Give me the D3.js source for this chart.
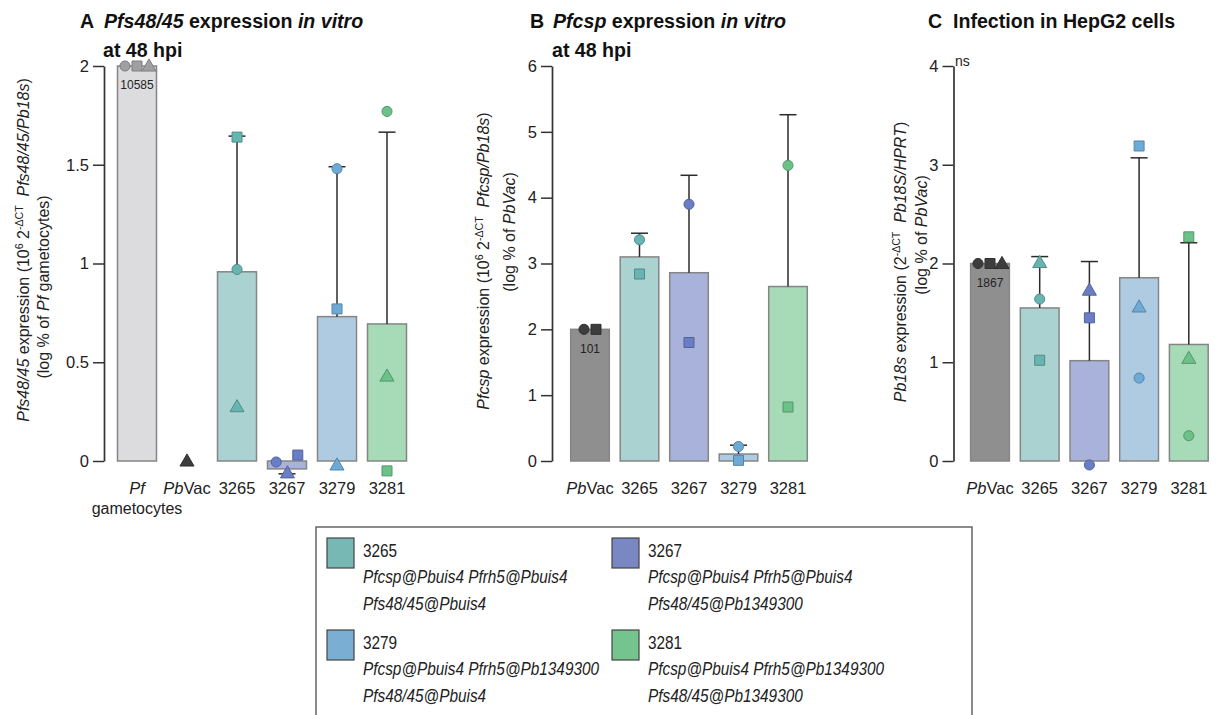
<!DOCTYPE html>
<html>
<head>
<meta charset="utf-8">
<script src="https://cdn.jsdelivr.net/npm/d3@7"></script>
<style>
  body { margin: 0; background: #fff; }
  svg { font-family: "Liberation Sans", Arial, sans-serif; }
  text { white-space: pre; }
</style>
</head>
<body>
<svg id="chart" width="1217" height="715"></svg>
<script>
// ---- Panel A: Pfs48/45 expression in vitro at 48 hpi ----
const catsA   = ["Pf", "PbVac", "3265", "3267", "3279", "3281"];
const meanA   = [2, null, 0.958, -0.04, 0.731, 0.694];
const errA    = [null, null, 1.645, -0.065, 1.49, 1.665];
const circA   = [2, null, 0.97, -0.005, 1.48, 1.77];
const squareA = [2, null, 1.64, 0.03, 0.77, -0.05];
const triA    = [2, 0, 0.275, -0.06, -0.02, 0.43];
const ticksA  = [0, 0.5, 1, 1.5, 2];

// ---- Panel B: Pfcsp expression in vitro at 48 hpi ----
const catsB   = ["PbVac", "3265", "3267", "3279", "3281"];
const meanB   = [2, 3.10, 2.86, 0.106, 2.65];
const errB    = [null, 3.46, 4.34, 0.24, 5.26];
const circB   = [2, 3.36, 3.90, 0.22, 4.49];
const squareB = [2, 2.84, 1.80, 0.01, 0.82];
const triB    = [null, null, null, null, null];
const ticksB  = [0, 1, 2, 3, 4, 5, 6];

// ---- Panel C: infection in HepG2 cells ----
const catsC   = ["PbVac", "3265", "3267", "3279", "3281"];
const meanC   = [2, 1.55, 1.016, 1.856, 1.18];
const errC    = [null, 2.07, 2.02, 3.07, 2.21];
const circC   = [2, 1.64, -0.04, 0.84, 0.256];
const squareC = [2, 1.02, 1.45, 3.19, 2.27];
const triC    = [2, 2.01, 1.73, 1.56, 1.04];
const ticksC  = [0, 1, 2, 3, 4];

// reference-strain raw values printed inside the bars
const barNotes = [{ panel: "A", cat: "Pf", text: "10585" },
                  { panel: "B", cat: "PbVac", text: "101" },
                  { panel: "C", cat: "PbVac", text: "1867" }];

// legend entries
const legendNames = ["3265", "3267", "3279", "3281"];
const legendLines = [
  ["Pfcsp@Pbuis4 Pfrh5@Pbuis4", "Pfs48/45@Pbuis4"],
  ["Pfcsp@Pbuis4 Pfrh5@Pbuis4", "Pfs48/45@Pb1349300"],
  ["Pfcsp@Pbuis4 Pfrh5@Pb1349300", "Pfs48/45@Pbuis4"],
  ["Pfcsp@Pbuis4 Pfrh5@Pb1349300", "Pfs48/45@Pb1349300"]
];

// colours
const barFill = { Pf: "#dcdcde", PbVac: "#8f8f8f", "3265": "#a9d2d0", "3267": "#a8b2da", "3279": "#afcbe2", "3281": "#a7dab6" };
const ptFill  = { Pf: "#a0a0a2", PbVac: "#3d3d3d", "3265": "#68b4b1", "3267": "#6a7ec6", "3279": "#6eaad6", "3281": "#6cc189" };
const swatchFill = { "3265": "#78b8b4", "3267": "#7988c3", "3279": "#7aaed3", "3281": "#75c48d" };

const svg = d3.select("#chart");
const Y0 = 461, YTOP = 66;

function rich(sel, segs, size) {
  let raised = false;
  segs.forEach(s => {
    const t = sel.append("tspan").text(s.t);
    if (s.i) t.attr("font-style", "italic");
    if (s.sup) {
      t.attr("font-size", size * 0.66).attr("dy", raised ? 0 : -size * 0.4);
      raised = true;
    } else if (raised) {
      t.attr("dy", size * 0.4);
      raised = false;
    }
  });
}

// simple dodge so replicate symbols at similar heights do not overlap
function dodge(ys, d, spread) {
  const placed = [];
  ys.forEach((py, idx) => {
    if (py == null) { placed.push(null); return; }
    const others = placed.filter(p => p);
    const cands = [0];
    others.forEach(q => {
      const dy = Math.abs(py - q.y);
      if (dy < d) {
        const need = Math.sqrt(d * d - dy * dy);
        cands.push(q.x + need, q.x - need);
      }
    });
    const ok = cands.filter(x => others.every(q => Math.hypot(x - q.x, py - q.y) >= d - 0.01));
    ok.sort((a, b) => Math.abs(a) - Math.abs(b) || b - a);
    placed.push({ x: ok[0], y: py, idx });
  });
  const pts = placed.filter(p => p);
  if (pts.length > 1) {
    const xs = pts.map(p => p.x);
    const mid = (d3.min(xs) + d3.max(xs)) / 2;
    pts.forEach(p => p.x -= mid);
    if (d3.max(pts, p => p.y) - d3.min(pts, p => p.y) < 0.5) {
      // identical heights: lay out left-to-right in replicate order
      const sorted = xs.map(x => x - mid).sort((a, b) => a - b);
      pts.forEach((p, i) => p.x = sorted[i]);
    } else {
      // mixed heights: widen the swarm a little so symbols read separately
      pts.forEach(p => p.x *= spread);
    }
  }
  return placed.map(p => p ? p.x : 0);
}

function drawPanel(cfg) {
  const g = svg.append("g");
  const y = d3.scaleLinear().domain([0, cfg.yMax]).range([Y0, YTOP]);
  const x = d3.scaleBand().domain(cfg.cats).range(cfg.band).paddingInner(0.22).paddingOuter(0.11);
  const bw = x.bandwidth();

  // y axis
  const ax = g.append("g").attr("transform", `translate(${cfg.axisX},0)`)
    .call(d3.axisLeft(y).tickValues(cfg.ticks).tickSize(11).tickPadding(4).tickSizeOuter(0).tickFormat(d3.format("~g")));
  ax.select(".domain").attr("stroke", "#333").attr("stroke-width", 1.7);
  ax.selectAll(".tick line").attr("stroke", "#333").attr("stroke-width", 1.5);
  ax.selectAll(".tick text").attr("font-size", 16.5).attr("fill", "#222").attr("font-family", "Liberation Sans, Arial, sans-serif");

  // bars
  cfg.cats.forEach((c, i) => {
    const m = cfg.mean[i];
    if (m == null) return;
    g.append("rect")
      .attr("x", x(c)).attr("width", bw)
      .attr("y", y(Math.max(0, m)))
      .attr("height", Math.abs(y(m) - y(0)))
      .attr("fill", barFill[c]).attr("stroke", "#858585").attr("stroke-width", 1.5);
  });

  // error bars
  cfg.cats.forEach((c, i) => {
    const m = cfg.mean[i], e = cfg.err[i];
    if (m == null || e == null) return;
    const cx = x(c) + bw / 2;
    g.append("line").attr("x1", cx).attr("x2", cx).attr("y1", y(m)).attr("y2", y(e))
      .attr("stroke", "#2b2b2b").attr("stroke-width", 1.5);
    g.append("line").attr("x1", cx - 8.5).attr("x2", cx + 8.5).attr("y1", y(e)).attr("y2", y(e))
      .attr("stroke", "#2b2b2b").attr("stroke-width", 1.5);
  });

  // replicate points
  const shapes = [
    { vals: cfg.circ, type: d3.symbolCircle, size: 80 },
    { vals: cfg.sq,   type: d3.symbolSquare, size: 100 },
    { vals: cfg.tri,  type: d3.symbolTriangle, size: 85 }
  ];
  cfg.cats.forEach((c, i) => {
    const ys = shapes.map(s => s.vals[i] == null ? null : y(s.vals[i]));
    const offs = dodge(ys, 12, 2.2);
    const cx = x(c) + bw / 2;
    shapes.forEach((s, k) => {
      if (ys[k] == null) return;
      const f = ptFill[c];
      g.append("path")
        .attr("d", d3.symbol().type(s.type).size(s.size)())
        .attr("transform", `translate(${cx + offs[k]},${ys[k] + (s.type === d3.symbolTriangle ? 1 : 0)})`)
        .attr("fill", f).attr("stroke", d3.color(f).darker(0.7)).attr("stroke-width", 1);
    });
  });

  // raw value note
  barNotes.filter(n => n.panel === cfg.id).forEach(n => {
    const i = cfg.cats.indexOf(n.cat);
    g.append("text").attr("x", x(n.cat) + bw / 2).attr("y", y(cfg.mean[i]) + 19)
      .attr("dy", "0.35em").attr("text-anchor", "middle").attr("font-size", 12).attr("fill", "#222")
      .text(n.text);
  });

  // category labels
  cfg.cats.forEach(c => {
    const t = g.append("text").attr("x", x(c) + bw / 2).attr("y", 494)
      .attr("text-anchor", "middle").attr("font-size", 16.5).attr("fill", "#222");
    if (c === "PbVac") rich(t, [{ t: "Pb", i: true }, { t: "Vac" }], 16.5);
    else if (c === "Pf") {
      rich(t, [{ t: "Pf", i: true }], 16.5);
      g.append("text").attr("x", x(c) + bw / 2).attr("y", 514).attr("text-anchor", "middle")
        .attr("font-size", 16).attr("fill", "#222").text("gametocytes");
    } else t.text(c);
  });

  // axis title (two rotated lines)
  cfg.ytitle.forEach(l => {
    const t = g.append("text")
      .attr("transform", `translate(${l.x},${l.cy}) rotate(-90)`)
      .attr("text-anchor", "middle").attr("font-size", 16).attr("fill", "#222");
    rich(t, l.segs, 16);
  });

  // panel heading
  cfg.title.forEach(l => {
    const t = g.append("text").attr("x", l.x).attr("y", l.y)
      .attr("font-size", 19.6).attr("font-weight", "bold").attr("fill", "#111");
    rich(t, l.segs, 19.6);
  });
  return g;
}

drawPanel({
  id: "A", cats: catsA, mean: meanA, err: errA, circ: circA, sq: squareA, tri: triA,
  yMax: 2, ticks: ticksA, axisX: 104, band: [112, 412],
  ytitle: [
    { x: 29, cy: 250, segs: [{ t: "Pfs48/45", i: true }, { t: " expression (10" }, { t: "6", sup: true }, { t: " 2" }, { t: "-ΔCT", sup: true }, { t: "  " }, { t: "Pfs48/45/Pb18s", i: true }, { t: ")" }] },
    { x: 49, cy: 287, segs: [{ t: "(log % of " }, { t: "Pf", i: true }, { t: " gametocytes)" }] }
  ],
  title: [
    { x: 80, y: 28, segs: [{ t: "A" }] },
    { x: 104, y: 28, segs: [{ t: "Pfs48/45", i: true }, { t: " expression " }, { t: "in vitro", i: true }] },
    { x: 103, y: 57, segs: [{ t: "at 48 hpi" }] }
  ]
});

drawPanel({
  id: "B", cats: catsB, mean: meanB, err: errB, circ: circB, sq: squareB, tri: triB,
  yMax: 6, ticks: ticksB, axisX: 552, band: [565.25, 812.75],
  ytitle: [
    { x: 489, cy: 261, segs: [{ t: "Pfcsp", i: true }, { t: " expression (10" }, { t: "6", sup: true }, { t: " 2" }, { t: "-ΔCT", sup: true }, { t: "  " }, { t: "Pfcsp/Pb18s", i: true }, { t: ")" }] },
    { x: 515, cy: 232, segs: [{ t: "(log % of " }, { t: "PbVac", i: true }, { t: ")" }] }
  ],
  title: [
    { x: 530, y: 28, segs: [{ t: "B" }] },
    { x: 553, y: 28, segs: [{ t: "Pfcsp", i: true }, { t: " expression " }, { t: "in vitro", i: true }] },
    { x: 552, y: 57, segs: [{ t: "at 48 hpi" }] }
  ]
});

const gC = drawPanel({
  id: "C", cats: catsC, mean: meanC, err: errC, circ: circC, sq: squareC, tri: triC,
  yMax: 4, ticks: ticksC, axisX: 953.5, band: [965.15, 1213.65],
  ytitle: [
    { x: 906, cy: 262, segs: [{ t: "Pb18s", i: true }, { t: " expression (2" }, { t: "-ΔCT", sup: true }, { t: "  " }, { t: "Pb18S/HPRT", i: true }, { t: ")" }] },
    { x: 927, cy: 235, segs: [{ t: "(log % of " }, { t: "PbVac", i: true }, { t: ")" }] }
  ],
  title: [
    { x: 928, y: 28, segs: [{ t: "C" }] },
    { x: 953, y: 28, segs: [{ t: "Infection in HepG2 cells" }] }
  ]
});
gC.append("text").attr("x", 955).attr("y", 66).attr("font-size", 14).attr("fill", "#222").text("ns");

// legend
const lg = svg.append("g");
lg.append("rect").attr("x", 316).attr("y", 527).attr("width", 656).attr("height", 200)
  .attr("fill", "none").attr("stroke", "#666").attr("stroke-width", 1.5);
const colX = [327, 612], rowY = [538, 630];
legendNames.forEach((n, i) => {
  const sx = colX[i % 2], sy = rowY[Math.floor(i / 2)];
  lg.append("rect").attr("x", sx).attr("y", sy).attr("width", 27).attr("height", 30)
    .attr("fill", swatchFill[n]).attr("stroke", "#444").attr("stroke-width", 1.2);
  const tx = sx + 36;
  lg.append("text").attr("transform", `translate(${tx},${sy + 18.5}) scale(0.83,1)`)
    .attr("font-size", 18.5).attr("fill", "#222").text(n);
  legendLines[i].forEach((l, j) => {
    lg.append("text").attr("transform", `translate(${tx},${sy + 45 + j * 26.7}) scale(0.83,1)`)
      .attr("font-size", 18.5).attr("font-style", "italic").attr("fill", "#222").text(l);
  });
});
</script>
</body>
</html>
